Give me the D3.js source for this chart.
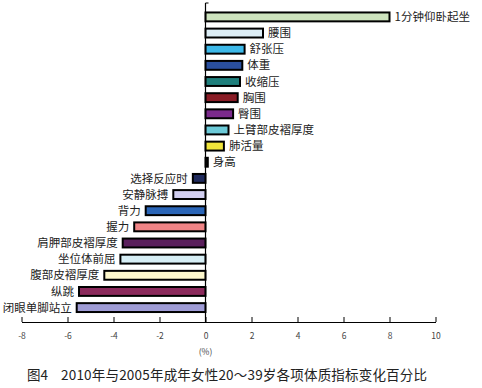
<!DOCTYPE html>
<html><head><meta charset="utf-8">
<script src="https://cdn.jsdelivr.net/npm/d3@7"></script>
<style>body{margin:0;background:#fff}svg{display:block}</style>
</head><body>
<svg id="c" width="482" height="388"></svg>
<script>
const categories = ["1分钟仰卧起坐","腰围","舒张压","体重","收缩压","胸围","臀围","上臂部皮褶厚度","肺活量","身高","选择反应时","安静脉搏","背力","握力","肩胛部皮褶厚度","坐位体前屈","腹部皮褶厚度","纵跳","闭眼单脚站立"];
const values = [8.0,2.5,1.7,1.6,1.5,1.4,1.2,1.0,0.8,0.1,-0.55,-1.4,-2.6,-3.1,-3.6,-3.7,-4.4,-5.5,-5.6];
const colors = ["#cde3bd","#ddeef6","#3db9e9","#2a4f9e","#1f7f7c","#8a1c26","#7b2a8c","#6ccad8","#efe43a","#111111","#1f2a5c","#d2cff0","#2b66b8","#f08486","#5a1f5c","#d6eef5","#fdf7cc","#8b2a5c","#9f9cd6"];
const xTicks = [-8,-6,-4,-2,0,2,4,6,8,10];
const titleFig = "图4";
const titleText = "2010年与2005年成年女性20～39岁各项体质指标变化百分比";
const unit = "(%)";

const svg = d3.select("#c");
const x = d3.scaleLinear().domain([-8,10]).range([21.5,435.5]);
const y = d3.scaleBand().domain(categories).range([5.2,319.3]).padding(0.45);
const font = "'Noto Sans CJK SC','Noto Sans',sans-serif";

const data = categories.map((c,i)=>({c, v:values[i], col:colors[i]}));

svg.selectAll("rect.bar").data(data).join("rect")
  .attr("class","bar")
  .attr("x", d=>x(Math.min(0,d.v)))
  .attr("width", d=>Math.abs(x(d.v)-x(0)))
  .attr("y", d=>y(d.c))
  .attr("height", y.bandwidth())
  .attr("fill", d=>d.col)
  .attr("stroke","#000")
  .attr("stroke-width",2);

svg.selectAll("text.lab").data(data).join("text")
  .attr("class","lab")
  .attr("x", d=> d.v>=0 ? x(d.v)+5 : x(d.v)-5)
  .attr("y", d=>y(d.c)+y.bandwidth()/2)
  .attr("dy","0.36em")
  .attr("text-anchor", d=> d.v>=0 ? "start":"end")
  .attr("font-family",font).attr("font-size",11.5).attr("fill","#222")
  .text(d=>d.c);

// vertical axis
svg.append("line").attr("x1",x(0)).attr("x2",x(0)).attr("y1",3).attr("y2",322)
  .attr("stroke","#000").attr("stroke-width",1.2);
svg.append("line").attr("x1",x(0)).attr("x2",x(0)+3).attr("y1",3).attr("y2",3)
  .attr("stroke","#000").attr("stroke-width",1);

// x axis
const ax = svg.append("g").attr("transform","translate(0,322)")
  .call(d3.axisBottom(x).tickValues(xTicks).tickSizeInner(-5).tickSizeOuter(0).tickPadding(11).tickFormat(d=>String(d)));
ax.select(".domain").attr("stroke","#000").attr("stroke-width",1.2);
ax.selectAll(".tick line").attr("stroke","#000");
ax.selectAll(".tick text").attr("font-family",font).attr("font-size",8.5).attr("fill","#444");

svg.append("text").attr("x",x(0)).attr("y",352).attr("dy","0.36em").attr("text-anchor","middle")
  .attr("font-family",font).attr("font-size",8.5).attr("fill","#444").text(unit);

svg.append("text").attr("x",27).attr("y",375).attr("dy","0.36em")
  .attr("font-family",font).attr("font-size",13.5).attr("fill","#222").text(titleFig);
svg.append("text").attr("x",61).attr("y",375).attr("dy","0.36em")
  .attr("font-family",font).attr("font-size",13.5).attr("fill","#222")
  .attr("textLength",366).attr("lengthAdjust","spacing").text(titleText);
</script>
</body></html>
